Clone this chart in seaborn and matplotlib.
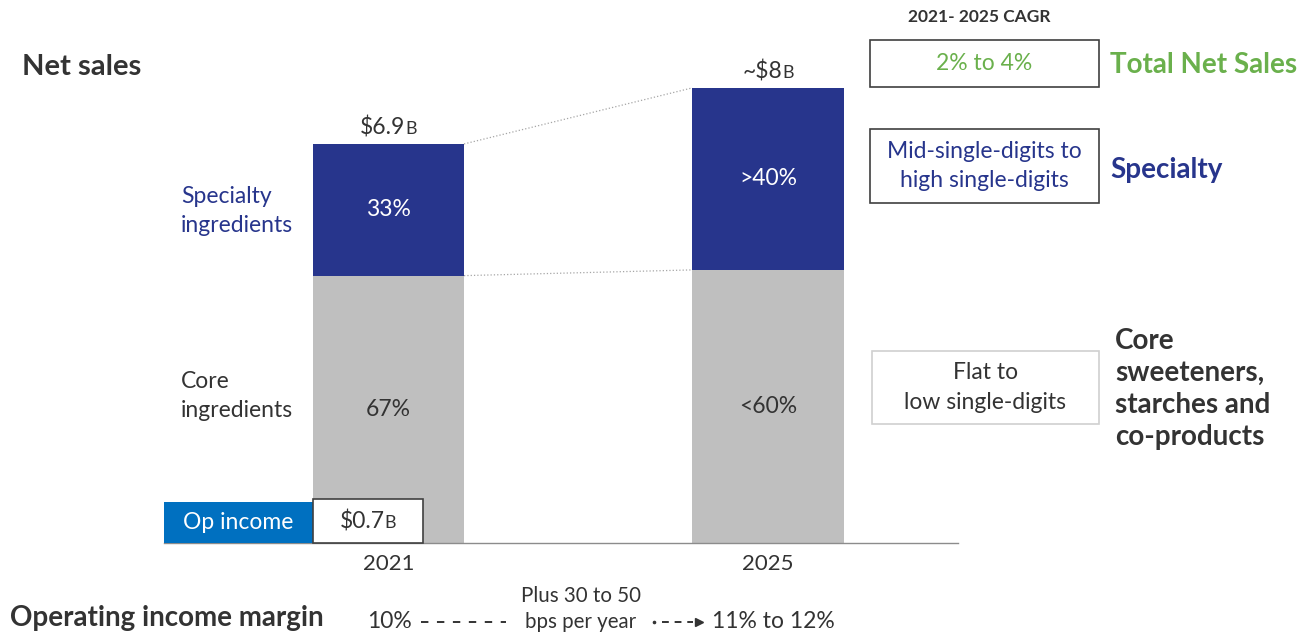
import matplotlib
matplotlib.use("Agg")
import matplotlib.pyplot as plt
from matplotlib.patches import Rectangle
from matplotlib.lines import Line2D
import seaborn as sns

# chart values
years = ["2021", "2025"]
total_sales = [6.9, 7.87]          # $B
core_share = [0.67, 0.60]
core_sales = [t * s for t, s in zip(total_sales, core_share)]
specialty_labels = ["33%", ">40%"]
core_labels = ["67%", "<60%"]
total_labels = ["\\$6.9", "~\\$8"]
op_income = 0.7
margin_start = "10%"
margin_end = "11% to 12%"
margin_step = "Plus 30 to 50\nbps per year"
cagr_values = ["2% to 4%", "Mid-single-digits to\nhigh single-digits", "Flat to\nlow single-digits"]
cagr_names = ["Total Net Sales", "Specialty", "Core\nsweeteners,\nstarches and\nco-products"]

BLUE = "#27358C"
GRAY = "#BFBFBF"
OPBLUE = "#0070C0"
GREEN = "#6AB04C"
DARK = "#333333"
FS = 16.5      # regular text
FSB = 20       # bold headings

sns.set_style("white")
plt.rcParams["font.family"] = ["Lato", "DejaVu Sans"]

W, H = 1311, 641
fig = plt.figure(figsize=(W / 100, H / 100), dpi=100)
renderer = fig.canvas.get_renderer()


def fx(x):
    return x / W


def fy(y):
    return 1 - y / H


def amount_label(xc, yc, main, small="B", zorder=7):
    # "$6.9" followed by a smaller "B", centred as one piece at pixel (xc, yc)
    t1 = fig.text(0, fy(yc), main, fontsize=FS, color=DARK, ha="left", va="center", zorder=zorder)
    t2 = fig.text(0, fy(yc) - 0.0016, small, fontsize=FS * 0.78, color=DARK, ha="left",
                  va="center", zorder=zorder)
    w1 = t1.get_window_extent(renderer).width
    w2 = t2.get_window_extent(renderer).width
    left = xc - (w1 + w2) / 2
    t1.set_x(fx(left))
    t2.set_x(fx(left + w1))


# bar axes: x from px 164 to 958, baseline at px 543
ax = fig.add_axes([fx(164), fy(543), (958 - 164) / W, (543 - 30) / H])
bw = 0.398
sns.barplot(x=years, y=total_sales, color=BLUE, width=bw, saturation=1, linewidth=0, ax=ax)
sns.barplot(x=years, y=core_sales, color=GRAY, width=bw, saturation=1, linewidth=0, ax=ax)
ax.set_xlim(-0.5916, 1.5007)
ax.set_ylim(0, 8.87)

for s in ["top", "right", "left"]:
    ax.spines[s].set_visible(False)
ax.spines["bottom"].set_color("#8C8C8C")
ax.spines["bottom"].set_linewidth(1.0)
ax.set_yticks([])
ax.tick_params(axis="x", length=0, pad=8, labelsize=16, labelcolor=DARK)
ax.set_xlabel("")
ax.set_ylabel("")

# segment labels
for i in range(len(years)):
    ax.text(i, (core_sales[i] + total_sales[i]) / 2, specialty_labels[i], color="white",
            ha="center", va="center", fontsize=FS)
    ax.text(i, core_sales[i] / 2, core_labels[i], color=DARK, ha="center", va="center", fontsize=FS)
    # total label just above the bar
    px, py = ax.transData.transform((i, total_sales[i]))
    amount_label(px, H - py - 16, total_labels[i])

# dotted connectors between the bars
ax.plot([bw / 2, 1 - bw / 2], [total_sales[0], total_sales[1]], ls=":", lw=0.9, color="#A6A6A6")
ax.plot([bw / 2, 1 - bw / 2], [core_sales[0], core_sales[1]], ls=":", lw=0.9, color="#A6A6A6")

# op income boxes
x0 = ax.get_xlim()[0]
ax.add_patch(Rectangle((x0, 0), -bw / 2 - x0, op_income + 0.01, facecolor=OPBLUE,
                       edgecolor="none", zorder=5, clip_on=False))
ax.add_patch(Rectangle((-bw / 2, 0), 0.29, op_income + 0.06, facecolor="white",
                       edgecolor="#404040", lw=1.2, zorder=6, clip_on=False))
ax.text((x0 - bw / 2) / 2, op_income / 2, "Op income", color="white", ha="center", va="center",
        fontsize=FS, zorder=7)
bx, by = ax.transData.transform((-bw / 2 + 0.145, op_income / 2 + 0.02))
amount_label(bx, H - by, "\\$%.1f" % op_income)

# left labels
fig.text(fx(22), fy(67), "Net sales", fontsize=21, fontweight="bold", color=DARK, va="center")
fig.text(fx(181), fy(211), "Specialty\ningredients", fontsize=FS, color=BLUE, va="center",
         linespacing=1.45)
fig.text(fx(181), fy(396), "Core\ningredients", fontsize=FS, color=DARK, va="center",
         linespacing=1.45)

# CAGR column
fig.text(fx(979), fy(17), "2021- 2025 CAGR", fontsize=12.5, fontweight="bold", color=DARK,
         ha="center", va="center")
boxes = [(870, 40, 1099, 87), (870, 129, 1099, 203), (872, 351, 1099, 424)]
box_edge = ["#404040", "#404040", "#D0D0D0"]
text_col = [GREEN, BLUE, DARK]
name_pos = [(1110, 65), (1110, 170), (1115, 389)]
for (l, t, r, b), ec, tc, val, name, (nx, ny) in zip(boxes, box_edge, text_col, cagr_values,
                                                       cagr_names, name_pos):
    fig.patches.append(Rectangle((fx(l), fy(b)), (r - l) / W, (b - t) / H, transform=fig.transFigure,
                                 facecolor="white", edgecolor=ec, lw=1.2))
    fig.text(fx((l + r) / 2), fy((t + b) / 2), val, fontsize=FS, color=tc, ha="center",
             va="center", linespacing=1.5)
    fig.text(fx(nx), fy(ny), name, fontsize=FSB, fontweight="bold", color=tc, va="center",
             linespacing=1.27)

# operating income margin row
fig.text(fx(10), fy(618), "Operating income margin", fontsize=FSB, fontweight="bold",
         color=DARK, va="center")
fig.text(fx(367), fy(622), margin_start, fontsize=FS, color=DARK, va="center")
fig.lines.append(Line2D([fx(421), fx(506)], [fy(622), fy(622)], transform=fig.transFigure,
                        color=DARK, lw=1.4, ls=(0, (3.8, 4.4))))
fig.text(fx(581), fy(609), margin_step, fontsize=14.8, color=DARK, ha="center", va="center",
         linespacing=1.41)
fig.lines.append(Line2D([fx(654)], [fy(622)], transform=fig.transFigure, color=DARK,
                        marker="o", markersize=1.6, lw=0))
fig.lines.append(Line2D([fx(662), fx(693)], [fy(622), fy(622)], transform=fig.transFigure,
                        color=DARK, lw=1.4, ls=(0, (3.5, 3))))
fig.lines.append(Line2D([fx(699)], [fy(622)], transform=fig.transFigure, color=DARK,
                        marker=">", markersize=5.5, lw=0))
fig.text(fx(712), fy(622), margin_end, fontsize=FS, color=DARK, va="center")

fig.savefig("out.png", dpi=100)
